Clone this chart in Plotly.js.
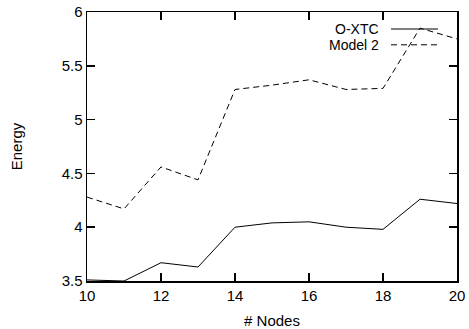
<!DOCTYPE html>
<html>
<head>
<meta charset="utf-8">
<script src="https://cdn.plot.ly/plotly-3.0.1.min.js"></script>
<style>html,body{margin:0;padding:0;background:#fff;}#chart{width:469px;height:329px;}</style>
</head>
<body>
<div id="chart"></div>
<script>
const nodes = [10, 11, 12, 13, 14, 15, 16, 17, 18, 19, 20];
const oxtc = [3.51, 3.50, 3.67, 3.63, 4.00, 4.04, 4.05, 4.00, 3.98, 4.26, 4.22];
const model2 = [4.28, 4.17, 4.56, 4.44, 5.28, 5.32, 5.37, 5.28, 5.29, 5.85, 5.75];
const seriesNames = ["O-XTC", "Model 2"];

const FONT = "Liberation Sans, Arial, Helvetica, sans-serif";
const traces = [
  {x: nodes, y: oxtc, name: seriesNames[0], mode: "lines", line: {color: "#000", width: 1}, showlegend: false},
  {x: nodes, y: model2, name: seriesNames[1], mode: "lines", line: {color: "#000", width: 1, dash: "6px,4px"}, showlegend: false}
];

const axisCommon = {
  showgrid: false, zeroline: false, showline: true, linecolor: "#000", linewidth: 1.5,
  mirror: "allticks", ticks: "inside", ticklen: 8, tickwidth: 1.5, tickcolor: "#000",
  tickfont: {family: FONT, size: 15, color: "#000"}
};

const legX0 = 0.8216, legX1 = 0.9486, legTextX = 0.7946;
const legY = [0.9368, 0.878];

const layout = {
  width: 469, height: 329,
  margin: {l: 87, r: 12, t: 12, b: 48},
  paper_bgcolor: "#fff", plot_bgcolor: "#fff",
  font: {family: FONT, size: 15, color: "#000"},
  xaxis: Object.assign({}, axisCommon, {
    range: [10, 20], dtick: 2, tick0: 10,
    title: {text: "# Nodes", font: {family: FONT, size: 15}, standoff: 15}
  }),
  yaxis: Object.assign({}, axisCommon, {
    range: [3.5, 6], dtick: 0.5, tick0: 3.5,
    title: {text: "Energy", font: {family: FONT, size: 15}, standoff: 35}
  }),
  annotations: seriesNames.map((n, i) => ({
    xref: "paper", yref: "paper", x: legTextX, y: legY[i], text: n,
    showarrow: false, xanchor: "right", yanchor: "middle",
    font: {family: FONT, size: 14, color: "#000"}
  })),
  shapes: [
    {type: "line", xref: "paper", yref: "paper", x0: legX0, x1: legX1, y0: legY[0], y1: legY[0], line: {color: "#000", width: 1}},
    {type: "line", xref: "paper", yref: "paper", x0: legX0, x1: legX1, y0: legY[1], y1: legY[1], line: {color: "#000", width: 1, dash: "6px,4px"}}
  ]
};

Plotly.newPlot("chart", traces, layout, {staticPlot: true, displayModeBar: false});
</script>
</body>
</html>
